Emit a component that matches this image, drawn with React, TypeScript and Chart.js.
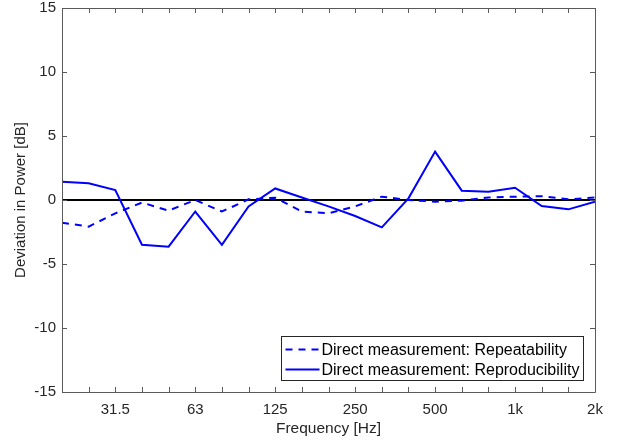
import React, { useEffect, useRef } from 'react';
import { Chart, registerables } from 'chart.js';

Chart.register(...registerables);

const bandLabels = ['20', '25', '31.5', '40', '50', '63', '80', '100', '125', '160', '200', '250', '315', '400', '500', '630', '800', '1k', '1.25k', '1.6k', '2k'];
const shownTickLabels = ['31.5', '63', '125', '250', '500', '1k', '2k'];
const repeatability = [-1.77, -2.08, -1.04, -0.2, -0.83, 0, -0.9, 0.05, 0.18, -0.9, -1.04, -0.5, 0.26, 0, -0.13, -0.05, 0.2, 0.26, 0.3, 0.05, 0.2];
const reproducibility = [1.43, 1.3, 0.78, -3.5, -3.65, -0.9, -3.5, -0.5, 0.9, 0.2, -0.5, -1.25, -2.14, 0.13, 3.78, 0.73, 0.65, 0.96, -0.47, -0.73, -0.13];
const zeroLine = bandLabels.map(() => 0);
const yTicks = [-15, -10, -5, 0, 5, 10, 15];
const seriesLabels = ['Direct measurement: Repeatability', 'Direct measurement: Reproducibility'];

const FONT = '"Liberation Sans", Arial, Helvetica, sans-serif';
const TEXT = '#262626';
const AXIS = '#5a5a5a';

const framePlugin = {
  id: 'frame',
  afterDatasetsDraw(chart: any) {
    const { ctx, chartArea: a, scales } = chart;
    const x = scales.x;
    const y = scales.y;
    ctx.save();
    ctx.strokeStyle = AXIS;
    ctx.lineWidth = 1;
    ctx.beginPath();
    ctx.rect(Math.round(a.left) + 0.5, Math.round(a.top) + 0.5, Math.round(a.right - a.left), Math.round(a.bottom - a.top));
    ctx.stroke();
    const tl = 5;
    ctx.beginPath();
    for (let i = 0; i < bandLabels.length; i++) {
      const px = Math.round(x.getPixelForValue(i)) + 0.5;
      ctx.moveTo(px, a.bottom);
      ctx.lineTo(px, a.bottom - tl);
      ctx.moveTo(px, a.top);
      ctx.lineTo(px, a.top + tl);
    }
    for (const v of yTicks) {
      const py = Math.round(y.getPixelForValue(v)) + 0.5;
      ctx.moveTo(a.left, py);
      ctx.lineTo(a.left + tl, py);
      ctx.moveTo(a.right, py);
      ctx.lineTo(a.right - tl, py);
    }
    ctx.stroke();

    // legend
    const w = 302;
    const h = 44;
    const bx = Math.round(a.right - 12 - w) + 0.5;
    const by = Math.round(a.bottom - 12 - h) + 0.5;
    ctx.fillStyle = '#ffffff';
    ctx.fillRect(bx, by, w, h);
    ctx.strokeStyle = '#262626';
    ctx.strokeRect(bx, by, w, h);
    ctx.font = '16px ' + FONT;
    ctx.textBaseline = 'middle';
    ctx.textAlign = 'left';
    for (let i = 0; i < 2; i++) {
      const ds = chart.data.datasets[i];
      const cy = by + 13 + i * 20;
      ctx.strokeStyle = ds.borderColor;
      ctx.lineWidth = 2;
      ctx.setLineDash(ds.borderDash || []);
      ctx.beginPath();
      ctx.moveTo(bx + 4, cy);
      ctx.lineTo(bx + 38, cy);
      ctx.stroke();
      ctx.setLineDash([]);
      ctx.fillStyle = '#000000';
      ctx.fillText(ds.label, bx + 40, cy + 1);
    }
    ctx.restore();
  },
};

export default function App() {
  const ref = useRef<HTMLCanvasElement>(null);
  useEffect(() => {
    document.body.style.margin = '0';
    const chart = new Chart(ref.current!, {
      type: 'line',
      data: {
        labels: bandLabels.map((_, i) => i),
        datasets: [
          {
            label: seriesLabels[0],
            data: repeatability.map((v, i) => ({ x: i, y: v })),
            borderColor: '#0000ff',
            borderWidth: 2,
            borderDash: [7, 6],
            pointRadius: 0,
            fill: false,
          },
          {
            label: seriesLabels[1],
            data: reproducibility.map((v, i) => ({ x: i, y: v })),
            borderColor: '#0000ff',
            borderWidth: 2,
            pointRadius: 0,
            fill: false,
          },
          {
            label: '',
            data: zeroLine.map((v, i) => ({ x: i, y: v })),
            borderColor: '#000000',
            borderWidth: 2,
            pointRadius: 0,
            fill: false,
          },
        ],
      },
      options: {
        animation: false,
        responsive: false,
        devicePixelRatio: 1,
        layout: { padding: { left: 0, right: 22, top: 8, bottom: 0 } },
        plugins: { legend: { display: false }, tooltip: { enabled: false } },
        scales: {
          x: {
            type: 'linear',
            min: 0,
            max: bandLabels.length - 1,
            grid: { display: false, drawTicks: false },
            border: { display: false },
            afterBuildTicks: (s: any) => {
              s.ticks = bandLabels.map((_, i) => ({ value: i }));
            },
            afterFit: (s: any) => {
              s.height = 51;
              s.paddingLeft = 0;
              s.paddingRight = 0;
            },
            ticks: {
              autoSkip: false,
              maxRotation: 0,
              padding: 9,
              color: TEXT,
              font: { family: FONT, size: 15 },
              callback: (v: any) => {
                const l = bandLabels[v];
                return shownTickLabels.includes(l) ? l : '';
              },
            },
            title: {
              display: true,
              text: 'Frequency [Hz]',
              color: TEXT,
              font: { family: FONT, size: 15.5 },
              padding: { top: 0, bottom: 5 },
            },
          },
          y: {
            min: -15,
            max: 15,
            grid: { display: false, drawTicks: false },
            border: { display: false },
            afterBuildTicks: (s: any) => {
              s.ticks = yTicks.map((v) => ({ value: v }));
            },
            afterFit: (s: any) => {
              s.width = 62;
              s.paddingTop = 0;
              s.paddingBottom = 0;
            },
            ticks: {
              padding: 6,
              color: TEXT,
              font: { family: FONT, size: 15 },
            },
            title: {
              display: true,
              text: 'Deviation in Power [dB]',
              color: TEXT,
              font: { family: FONT, size: 15 },
              padding: { top: 12, bottom: 0 },
            },
          },
        },
      },
      plugins: [framePlugin],
    });
    return () => chart.destroy();
  }, []);
  return <canvas ref={ref} width={617} height={443} style={{ display: 'block', width: 617, height: 443 }} />;
}
